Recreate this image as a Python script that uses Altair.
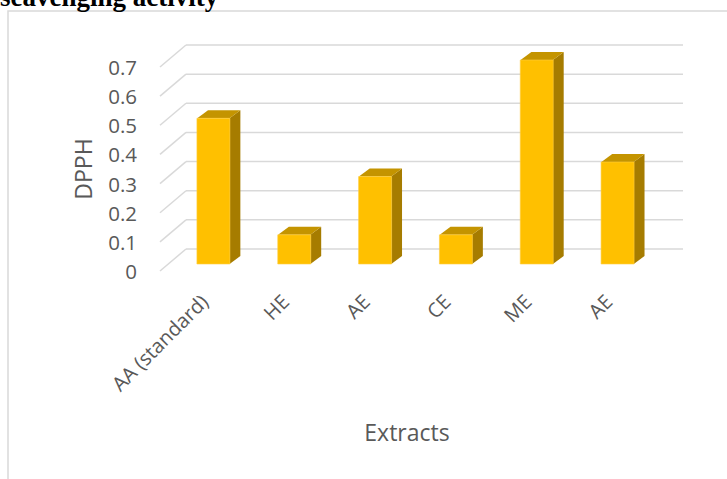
import altair as alt
import pandas as pd

# ---- data ----
categories = ["AA (standard)", "HE", "AE", "CE", "ME", "AE"]
dpph = [0.5, 0.1, 0.3, 0.1, 0.7, 0.35]
y_ticks = [0, 0.1, 0.2, 0.3, 0.4, 0.5, 0.6, 0.7]
y_tick_labels = ["0", "0.1", "0.2", "0.3", "0.4", "0.5", "0.6", "0.7"]
x_title = "Extracts"
y_title = "DPPH"
top_text = "seavenging activity"

# ---- geometry (pixels) ----
W, H = 495, 204
PAD_L, PAD_T = 168, 60
N = len(categories)
STEP = W / N
BAR_PX = 33
DEPTH_X_PX, DEPTH_Y_PX = 11, 8
YMAX = 0.7

hw = (BAR_PX / 2) / STEP
dx = DEPTH_X_PX / STEP
dy = DEPTH_Y_PX * YMAX / H

xs = alt.Scale(domain=[0, N], nice=False, zero=False)
ys = alt.Scale(domain=[0, YMAX], nice=False, zero=False)

bars = pd.DataFrame({"pos": [i + 0.5 for i in range(N)], "v": dpph, "cat": categories, "id": list(range(N))})

side_rows, top_rows = [], []
for i, v in enumerate(dpph):
    p = i + 0.5
    side_rows += [
        {"id": i, "x": p + hw, "a": v, "b": 0.0},
        {"id": i, "x": p + hw + dx, "a": v + dy, "b": dy},
    ]
    top_rows += [
        {"id": i, "x": p - hw, "a": v, "b": v},
        {"id": i, "x": p - hw + dx, "a": v + dy, "b": v},
        {"id": i, "x": p + hw, "a": v + dy, "b": v},
        {"id": i, "x": p + hw + dx, "a": v + dy, "b": v + dy},
    ]
side = pd.DataFrame(side_rows)
topf = pd.DataFrame(top_rows)
ticks = pd.DataFrame({"t": y_ticks, "lab": y_tick_labels})
one = pd.DataFrame({"x": [0]})

GRID = "#D9D9D9"
TXT = "#595959"
FONT = "Open Sans"

frame = alt.Chart(one).mark_rect(fillOpacity=0, stroke=GRID, strokeWidth=1.5).encode(
    x=alt.value(8 - PAD_L), x2=alt.value(727 - PAD_L + 20),
    y=alt.value(11 - PAD_T), y2=alt.value(479 - PAD_T + 20))

grid = alt.Chart(ticks).mark_rule(color=GRID, strokeWidth=1.5, yOffset=-15).encode(
    y=alt.Y("t:Q", scale=ys, axis=None),
    x=alt.value(186 - PAD_L), x2=alt.value(683 - PAD_L))

diag = alt.Chart(ticks).mark_rule(color=GRID, strokeWidth=1.5, yOffset=7, y2Offset=-15).encode(
    y=alt.Y("t:Q", scale=ys, axis=None), y2="t:Q",
    x=alt.value(160 - PAD_L), x2=alt.value(186 - PAD_L))

side_l = alt.Chart(side).mark_area(color="#A67C00", interpolate="linear").encode(
    x=alt.X("x:Q", scale=xs, axis=None),
    y=alt.Y("a:Q", scale=ys, axis=None, stack=None), y2="b:Q",
    detail="id:N")

top_l = alt.Chart(topf).mark_area(color="#C49400", interpolate="linear").encode(
    x=alt.X("x:Q", scale=xs, axis=None),
    y=alt.Y("a:Q", scale=ys, axis=None, stack=None), y2="b:Q",
    detail="id:N")

front = alt.Chart(bars).mark_bar(size=BAR_PX, color="#FFC000", stroke="#FFCF3F", strokeWidth=0.6).encode(
    x=alt.X("pos:Q", scale=xs, axis=None),
    y=alt.Y("v:Q", scale=ys, axis=None))

ylab = alt.Chart(ticks).mark_text(align="right", baseline="middle", font=FONT, fontSize=20.5,
                                  color=TXT, dy=9).encode(
    y=alt.Y("t:Q", scale=ys, axis=None), x=alt.value(137 - PAD_L), text="lab:N")

xlab = alt.Chart(bars).mark_text(align="right", baseline="middle", font=FONT, fontSize=20,
                                 color=TXT, angle=315, xOffset=-8).encode(
    x=alt.X("pos:Q", scale=xs, axis=None), y=alt.value(299 - PAD_T), text="cat:N")

xtitle = alt.Chart(pd.DataFrame({"s": [x_title]})).mark_text(
    align="center", baseline="alphabetic", font=FONT, fontSize=23, color=TXT).encode(
    x=alt.value(407 - PAD_L), y=alt.value(441 - PAD_T), text="s:N")

ytitle = alt.Chart(pd.DataFrame({"s": [y_title]})).mark_text(
    align="center", baseline="alphabetic", font=FONT, fontSize=23, color=TXT, angle=270).encode(
    x=alt.value(92 - PAD_L), y=alt.value(169 - PAD_T), text="s:N")

ttl = alt.Chart(pd.DataFrame({"s": [top_text]})).mark_text(
    align="left", baseline="alphabetic", font="Liberation Serif", fontWeight="bold",
    fontSize=27, color="#000000").encode(
    x=alt.value(0 - PAD_L), y=alt.value(6 - PAD_T), text="s:N")

chart = alt.layer(frame, grid, diag, side_l, top_l, front, ylab, xlab, xtitle, ytitle, ttl).properties(
    width=W, height=H,
    autosize=alt.AutoSizeParams(type="none"),
    padding={"left": PAD_L, "top": PAD_T, "right": 727 - PAD_L - W, "bottom": 479 - PAD_T - H},
    background="white",
).configure_view(stroke=None)

chart.save("out.html", embed_options={"renderer": "svg", "actions": False})
